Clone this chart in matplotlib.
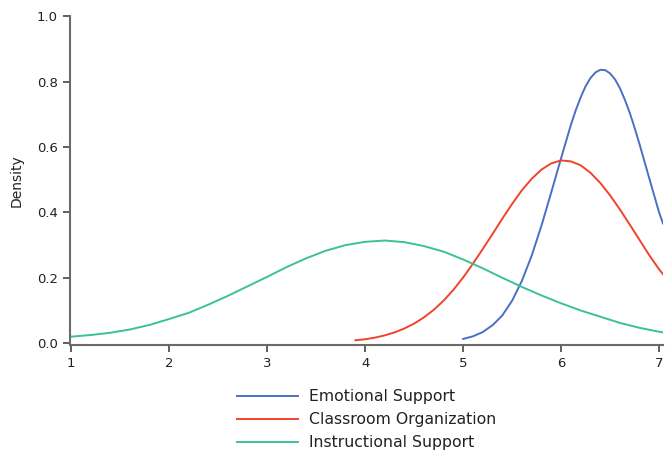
import matplotlib
matplotlib.use("Agg")
import matplotlib.pyplot as plt

# density curves of the three domain scores
emo_x = [5.0, 5.1, 5.2, 5.3, 5.4, 5.5, 5.6, 5.7, 5.8, 5.9, 6.0, 6.1, 6.15, 6.2,
         6.25, 6.3, 6.35, 6.4, 6.45, 6.5, 6.55, 6.6, 6.65, 6.7, 6.75, 6.8, 6.9,
         7.0, 7.04]
emo_y = [0.013, 0.021, 0.034, 0.055, 0.085, 0.130, 0.191, 0.268, 0.360, 0.462,
         0.566, 0.668, 0.713, 0.752, 0.786, 0.811, 0.828, 0.836, 0.835, 0.825,
         0.807, 0.780, 0.745, 0.705, 0.659, 0.609, 0.504, 0.400, 0.366]

org_x = [3.9, 4.0, 4.1, 4.2, 4.3, 4.4, 4.5, 4.6, 4.7, 4.8, 4.9, 5.0, 5.1, 5.2,
         5.3, 5.4, 5.5, 5.6, 5.7, 5.8, 5.9, 6.0, 6.1, 6.2, 6.3, 6.4, 6.5, 6.6,
         6.7, 6.8, 6.9, 7.0, 7.04]
org_y = [0.009, 0.012, 0.017, 0.024, 0.033, 0.045, 0.060, 0.079, 0.102, 0.130,
         0.163, 0.201, 0.243, 0.288, 0.334, 0.381, 0.426, 0.468, 0.503, 0.531,
         0.550, 0.559, 0.556, 0.544, 0.521, 0.490, 0.452, 0.409, 0.363, 0.316,
         0.269, 0.226, 0.211]

ins_x = [1.0, 1.2, 1.4, 1.6, 1.8, 2.0, 2.2, 2.4, 2.6, 2.8, 3.0, 3.2, 3.4, 3.6,
         3.8, 4.0, 4.2, 4.4, 4.6, 4.8, 5.0, 5.2, 5.4, 5.6, 5.8, 6.0, 6.2, 6.4,
         6.6, 6.8, 7.0, 7.04]
ins_y = [0.020, 0.025, 0.032, 0.042, 0.056, 0.074, 0.093, 0.118, 0.145, 0.174,
         0.203, 0.233, 0.260, 0.283, 0.300, 0.310, 0.314, 0.309, 0.297, 0.280,
         0.256, 0.229, 0.200, 0.172, 0.146, 0.122, 0.100, 0.081, 0.062, 0.047,
         0.035, 0.033]

labels = ["Emotional Support", "Classroom Organization", "Instructional Support"]
colors = ["#4a6fc3", "#f0432e", "#3cc195"]
x_ticks = [1, 2, 3, 4, 5, 6, 7]
y_ticks = [0.0, 0.2, 0.4, 0.6, 0.8, 1.0]

fig = plt.figure(figsize=(6.65, 4.5), dpi=100)
ax = fig.add_axes([0.105, 0.233, 0.892, 0.731])

for xs, ys, lab, col in zip([emo_x, org_x, ins_x], [emo_y, org_y, ins_y], labels, colors):
    ax.plot(xs, ys, color=col, lw=1.4, label=lab, solid_joinstyle="round")

ax.set_xlim(0.985, 7.04)
ax.set_ylim(-0.006, 1.0)
ax.set_xticks(x_ticks)
ax.set_yticks(y_ticks)
ax.set_yticklabels([f"{v:.1f}" for v in y_ticks])
for s in ["top", "right"]:
    ax.spines[s].set_visible(False)
for s in ["left", "bottom"]:
    ax.spines[s].set_color("#6b6b6b")
    ax.spines[s].set_linewidth(1.5)
ax.tick_params(colors="#222222", labelsize=9.5, length=5, width=1.2, direction="out")
ax.tick_params(axis="both", color="#444444")
ax.set_ylabel("Density", fontsize=10, color="#222222", labelpad=10)

fig.legend(loc="upper left", bbox_to_anchor=(0.345, 0.152), frameon=False,
           fontsize=11.3, handlelength=3.9, handletextpad=0.7, labelspacing=0.5,
           borderpad=0, labelcolor="#222222")

fig.savefig("out.png", dpi=100)
